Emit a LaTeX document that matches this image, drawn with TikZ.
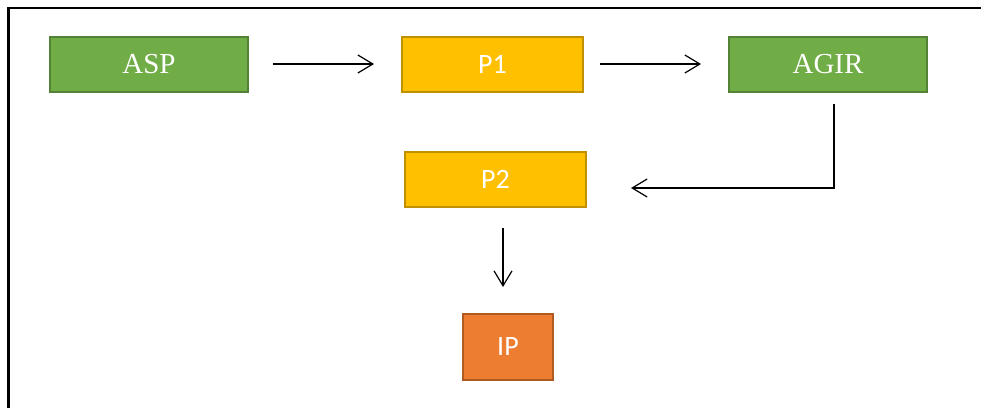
\documentclass[tikz,border=0pt]{standalone}
\usepackage{fontspec}
\setmainfont{Liberation Serif}
\newfontfamily\calib{Carlito}
\usetikzlibrary{arrows.meta}
\definecolor{grn}{HTML}{70AD47}
\definecolor{grnb}{HTML}{548235}
\definecolor{yel}{HTML}{FFC000}
\definecolor{yelb}{HTML}{BF9000}
\definecolor{org}{HTML}{ED7D31}
\definecolor{orgb}{HTML}{AE5A21}
\begin{document}
\begin{tikzpicture}[x=1pt,y=-1pt,
  box/.style={draw, line width=2pt, text=white, inner sep=0pt, anchor=north west},
  gbox/.style={box, fill=grn, draw=grnb, font=\fontsize{29}{29}\selectfont},
  ybox/.style={box, fill=yel, draw=yelb, font=\calib\fontsize{28}{28}\selectfont},
  obox/.style={box, fill=org, draw=orgb, font=\calib\fontsize{28}{28}\selectfont},
  conn/.style={line width=1.2pt, -{Straight Barb[length=15pt,width=18pt,line width=1.2pt]}}]
\useasboundingbox (0,0) rectangle (981,407);
\fill[white] (0,0) rectangle (981,407);
\draw[line width=2.2pt] (8.5,420) -- (8.5,8) -- (995,8);
\node[gbox, minimum width=198pt, minimum height=55pt] (asp) at (49,36) {ASP};
\node[ybox, minimum width=181pt, minimum height=55pt] (p1) at (401,36) {P1};
\node[gbox, minimum width=198pt, minimum height=55pt] (agir) at (728,36) {AGIR};
\node[ybox, minimum width=181pt, minimum height=55pt] (p2) at (404,151) {P2};
\node[obox, minimum width=90pt, minimum height=66pt] (ip) at (462,313) {IP};
\coordinate (a1) at (273,64);
\coordinate (a2) at (374,64);
\coordinate (b1) at (600,64);
\coordinate (b2) at (701,64);
\coordinate (c1) at (834,104);
\coordinate (c2) at (631,188);
\coordinate (d1) at (503,228);
\coordinate (d2) at (503,287);
\draw[conn] (a1) -- (a2);
\draw[conn] (b1) -- (b2);
\draw[conn] (c1) |- (c2);
\draw[conn] (d1) -- (d2);
\end{tikzpicture}
\end{document}
